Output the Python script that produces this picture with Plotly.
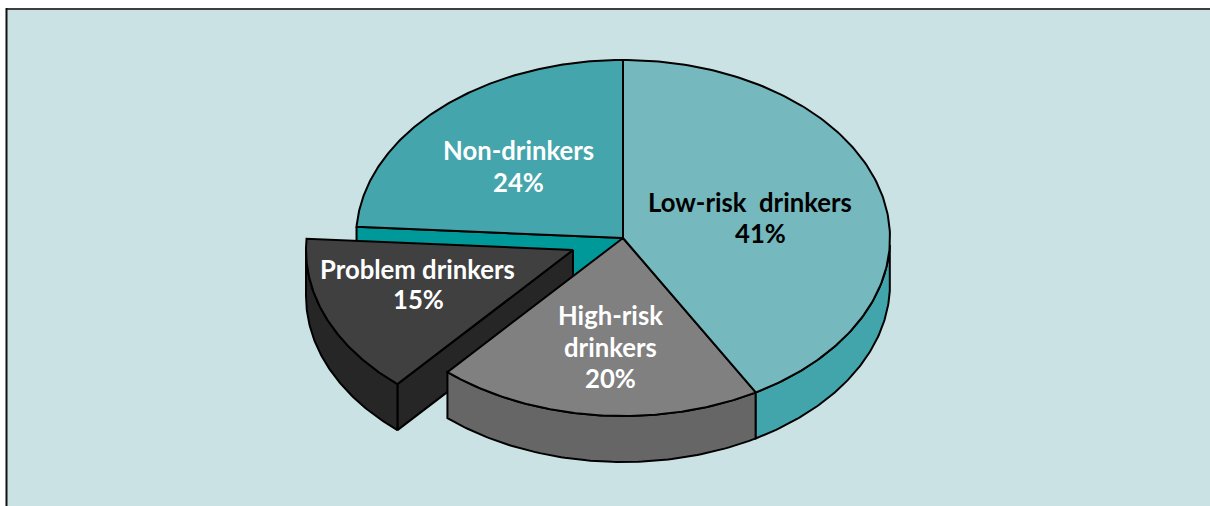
import numpy as np
import plotly.graph_objects as go

# Shares of each drinking group, clockwise from 12 o'clock
categories = ["Low-risk drinkers", "High-risk drinkers", "Problem drinkers", "Non-drinkers"]
shares = [41, 20, 15, 24]
label_lines = [["Low-risk\u00a0\u00a0drinkers", "41%"],
               ["High-risk", "drinkers", "20%"],
               ["Problem drinkers", "15%"],
               ["Non-drinkers", "24%"]]

TOP_COLORS = ["#75B8BE", "#808080", "#404040", "#44A5AC"]
WALL_COLORS = ["#41A5AB", "#666666", "#262626", "#009999"]
TEXT_COLORS = ["#000000", "#FFFFFF", "#FFFFFF", "#FFFFFF"]
LABEL_CENTERS = [[(749.5, 202), (760, 233)],
                 [(610, 315), (610, 347), (610, 378)],
                 [(417, 269), (418, 299)],
                 [(518.5, 150), (518, 182)]]

# Pie geometry in page pixels
CX, CY, RX, RY = 623.0, 238.0, 267.0, 178.0
DEPTH = 46.0
EXPLODE = (-50.0, 12.0)
EXPLODED = 2
SKEW = 2.6

edges = np.cumsum([0] + shares) * 3.6
skew_end = edges[3]


def view_angle(theta):
    # The tilted view stretches the sectors ahead of the non-drinkers slice a little
    theta = np.asarray(theta, dtype=float)
    return theta + np.where(theta < skew_end, SKEW * np.sin(np.pi * theta / skew_end), 0.0)


def rim(theta, dx=0.0, dy=0.0):
    t = np.radians(view_angle(theta))
    return CX + dx + RX * np.sin(t), CY + dy + RY * -np.cos(t)


fig = go.Figure()


def polygon(xs, ys, color):
    fig.add_trace(go.Scatter(
        x=np.round(xs, 2), y=np.round(ys, 2), mode="lines", fill="toself", fillcolor=color,
        line=dict(color="#000000", width=2, shape="linear"),
        hoverinfo="skip", showlegend=False,
    ))


def outer_wall(a, b, color, dx=0.0, dy=0.0):
    # Only the part of the rim facing the viewer (90..270 degrees) is drawn
    lo, hi = max(a, 90.0), min(b, 270.0)
    if lo >= hi:
        return
    th = np.linspace(lo, hi, 90)
    x, y = rim(th, dx, dy)
    polygon(np.r_[x, x[::-1], x[0]], np.r_[y, y[::-1] + DEPTH, y[0]], color)


def top_face(a, b, color, dx=0.0, dy=0.0):
    th = np.linspace(a, b, 160)
    x, y = rim(th, dx, dy)
    polygon(np.r_[CX + dx, x, CX + dx], np.r_[CY + dy, y, CY + dy], color)


def cut_face(theta, color, dx=0.0, dy=0.0):
    # Flat radial face exposed along a slice edge
    x, y = rim(np.array([theta]), dx, dy)
    hx, hy = CX + dx, CY + dy
    polygon([x[0], hx, hx, x[0], x[0]],
            [y[0], hy, hy + DEPTH, y[0] + DEPTH, y[0]], color)


# Back to front: non-drinkers, the pulled-out slice, then the two front slices
cut_face(edges[3], WALL_COLORS[3])
top_face(edges[3], edges[4], TOP_COLORS[3])

dx, dy = EXPLODE
cut_face(edges[2], WALL_COLORS[2], dx, dy)
outer_wall(edges[2], edges[3], WALL_COLORS[2], dx, dy)
top_face(edges[2], edges[3], TOP_COLORS[2], dx, dy)

outer_wall(edges[1], edges[2], WALL_COLORS[1])
top_face(edges[1], edges[2], TOP_COLORS[1])

outer_wall(edges[0], edges[1], WALL_COLORS[0])
top_face(edges[0], edges[1], TOP_COLORS[0])

annotations = []
for lines, centers, color in zip(label_lines, LABEL_CENTERS, TEXT_COLORS):
    for text, (x, y) in zip(lines, centers):
        annotations.append(dict(
            x=x, y=y, text=text, showarrow=False, xanchor="center", yanchor="middle",
            font=dict(family="Lato", size=25.7, color=color, weight="bold"),
        ))

fig.update_layout(
    width=1210, height=506, margin=dict(l=0, r=0, t=0, b=0),
    paper_bgcolor="#FFFFFF", plot_bgcolor="#FFFFFF",
    xaxis=dict(range=[0, 1210], visible=False, fixedrange=True),
    yaxis=dict(range=[506, 0], visible=False, fixedrange=True),
    annotations=annotations,
    shapes=[
        dict(type="rect", layer="below", xref="x", yref="y", x0=6.5, x1=1215, y0=9, y1=515,
             fillcolor="#CBE2E4", line=dict(width=0)),
        dict(type="line", layer="below", xref="x", yref="y", x0=6, x1=1215, y0=9, y1=9,
             line=dict(color="#3F3F3F", width=2)),
        dict(type="line", layer="below", xref="x", yref="y", x0=6.5, x1=6.5, y0=8, y1=515,
             line=dict(color="#111111", width=2)),
    ],
)

fig.write_html("out.html", config=dict(displayModeBar=False))
